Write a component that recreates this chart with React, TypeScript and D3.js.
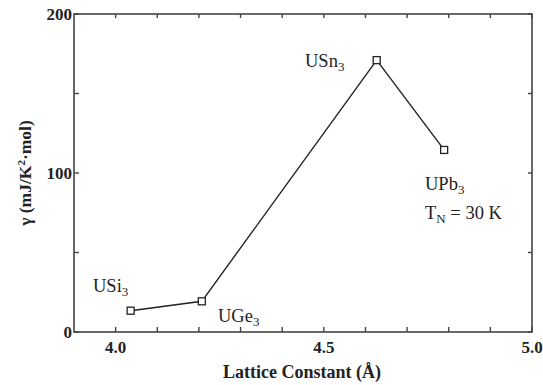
import React from "react";
import * as d3 from "d3";

const compounds = ["USi3", "UGe3", "USn3", "UPb3"];
const latticeConstants = [4.036, 4.207, 4.627, 4.789];
const gammaValues = [13.4, 19.3, 171, 114.5];
const xTickLabels = [4.0, 4.5, 5.0];
const yTickLabels = [0, 100, 200];

const W = 543, H = 385;
const L = 74, R = 532, T = 14, B = 332;
const FONT = "'Liberation Serif', 'Times New Roman', Times, serif";

export default function App() {
  const x = d3.scaleLinear().domain([3.9, 5.0]).range([L, R]);
  const y = d3.scaleLinear().domain([0, 200]).range([B, T]);
  const line = d3.line<number>().x((_, i) => x(latticeConstants[i])).y((d) => y(d));
  const xMinor = d3.range(0, 11).map((i) => +(4.0 + i * 0.1).toFixed(2));
  const yMinor = [0, 50, 100, 150, 200];
  const ink = "#222";
  const labelPos: Record<string, [number, number]> = {
    USi3: [93, 292],
    UGe3: [218, 322],
    USn3: [305, 67],
    UPb3: [425, 190],
  };
  return (
    <svg width={W} height={H} style={{ position: "absolute", left: 0, top: 0 }}>
      <rect x={0} y={0} width={W} height={H} fill="#fff" />
      <g style={{ fontFamily: FONT }}>
        <rect x={L} y={T} width={R - L} height={B - T} fill="none" stroke="#444" strokeWidth={1.6} />
        {xMinor.map((v) => (
          <g key={"xb" + v}>
            <line x1={x(v)} x2={x(v)} y1={B} y2={B - 5} stroke="#444" strokeWidth={1.4} />
            <line x1={x(v)} x2={x(v)} y1={T} y2={T + 4} stroke="#444" strokeWidth={1.4} />
          </g>
        ))}
        {yMinor.map((v) => (
          <g key={"yt" + v}>
            <line x1={L} x2={L + 5} y1={y(v)} y2={y(v)} stroke="#444" strokeWidth={1.4} />
            <line x1={R} x2={R - 4} y1={y(v)} y2={y(v)} stroke="#444" strokeWidth={1.4} />
          </g>
        ))}
        {xTickLabels.map((v) => (
          <text key={"xl" + v} x={x(v)} y={B + 21} textAnchor="middle" fontSize={17} fontWeight="bold" fill={ink}>
            {v.toFixed(1)}
          </text>
        ))}
        {yTickLabels.map((v) => (
          <text key={"yl" + v} x={L - 2} y={y(v) + 6} textAnchor="end" fontSize={17} fontWeight="bold" fill={ink}>
            {v}
          </text>
        ))}
        <text x={302} y={378} textAnchor="middle" fontSize={18} fontWeight="bold" fill={ink}>
          Lattice Constant (Å)
        </text>
        <text transform={`translate(31,${y(100)}) rotate(-90)`} textAnchor="middle" fontSize={17.5} fontWeight="bold" fill={ink}>
          γ (mJ/K<tspan dy={-6} fontSize={11}>2</tspan><tspan dy={6}>·mol)</tspan>
        </text>
        <path d={line(gammaValues) || ""} fill="none" stroke="#222" strokeWidth={1.4} />
        {gammaValues.map((g, i) => (
          <rect key={"pt" + i} x={x(latticeConstants[i]) - 3.5} y={y(g) - 3.5} width={7} height={7} fill="#fff" stroke="#222" strokeWidth={1.3} />
        ))}
        {compounds.map((c) => {
          const [lx, ly] = labelPos[c];
          return (
            <text key={c} x={lx} y={ly} fontSize={18.5} fill={ink}>
              {c.slice(0, -1)}
              <tspan dy={4} fontSize={13}>{c.slice(-1)}</tspan>
            </text>
          );
        })}
        <text x={425} y={219} fontSize={18.5} fill={ink}>
          T<tspan dy={4} fontSize={13}>N</tspan><tspan dy={-4}> = 30 K</tspan>
        </text>
      </g>
    </svg>
  );
}
